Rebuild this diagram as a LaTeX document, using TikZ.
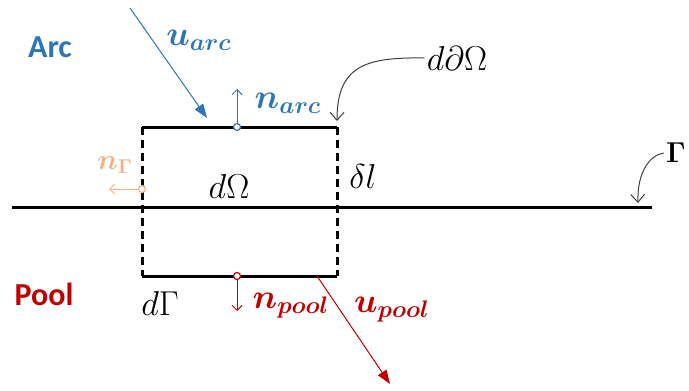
\documentclass[tikz,border=0pt]{standalone}
\usepackage{amsmath}
\usepackage{fontspec}
\newfontfamily\phasefont{Carlito}
\usetikzlibrary{arrows.meta,positioning}

\definecolor{arcblue}{RGB}{46,117,182}
\definecolor{poolred}{RGB}{192,0,0}
\definecolor{gammaorange}{RGB}{244,177,131}

\begin{document}
\begin{tikzpicture}[
    x=0.5pt, y=-0.5pt,
    every node/.style={font=\LARGE, inner sep=1pt},
    phase/.style={font=\phasefont\bfseries\fontsize{16}{19}\selectfont},
    veclabel/.style={font=\LARGE},
    wall/.style={line width=1.5pt},
    cutline/.style={line width=1.5pt, dash pattern=on 4pt off 2.5pt},
    normal/.style={-{Straight Barb[length=2.5pt,width=5pt]}, line width=0.5pt},
    flow/.style={-{Triangle[length=7pt,width=5pt]}, line width=0.5pt},
    pointer/.style={-{Straight Barb[length=4pt,width=7pt]}, line width=0.5pt, black!75},
    foot/.style={circle, draw, fill=white, line width=0.6pt, inner sep=0pt, minimum size=3.5pt}
]
\useasboundingbox (0,0) rectangle (689,390);

% control volume and interface
\coordinate (tl) at (142,127);
\coordinate (tr) at (337,127);
\coordinate (bl) at (142,276);
\coordinate (br) at (337,276);
\coordinate (ifl) at (12,207);
\coordinate (ifr) at (652,207);

\draw[wall] (ifl) -- (ifr);
\draw[wall] (tl) -- (tr);
\draw[wall] (bl) -- (br);
\draw[cutline] (tl) -- (bl);
\draw[cutline] (tr) -- (br);

% phases
\node[phase, text=arcblue] (arc) at (50,47) {Arc};
\node[phase, text=poolred] (pool) at (44,294) {Pool};

% labels of the volume
\node (dOmega) at (229,186) {$d\Omega$};
\node (dl) at (363,176) {$\delta l$};
\node (dGamma) at (160,303) {$d\Gamma$};
\node (ddOmega) at (457,58) {$d\partial\Omega$};
\node[font=\Large, anchor=east] (gamma) at (688,153) {$\boldsymbol{\Gamma}$};

% normals
\node[foot, draw=arcblue] (narcfoot) at (237,127) {};
\coordinate (narctip) at (237,89);
\draw[normal, arcblue] (narcfoot) -- (narctip);
\node[veclabel, text=arcblue] (narc) at (288,103) {$\boldsymbol{n}_{\boldsymbol{arc}}$};

\node[foot, draw=poolred] (npoolfoot) at (237,276) {};
\coordinate (npooltip) at (237,311);
\draw[normal, poolred] (npoolfoot) -- (npooltip);
\node[veclabel, text=poolred] (npool) at (291,306) {$\boldsymbol{n}_{\boldsymbol{pool}}$};

\node[foot, draw=gammaorange] (ngfoot) at (142,189) {};
\coordinate (ngtip) at (109,189);
\draw[normal, gammaorange] (ngfoot) -- (ngtip);
\node[font=\Large, text=gammaorange] (ngamma) at (115,165) {$\boldsymbol{n}_{\boldsymbol{\Gamma}}$};

% velocities
\coordinate (uarcstart) at (130,8);
\coordinate (uarcend) at (207,118);
\draw[flow, arcblue] (uarcstart) -- (uarcend);
\node[veclabel, text=arcblue] (uarc) at (199,40) {$\boldsymbol{u}_{\boldsymbol{arc}}$};

\coordinate (upoolstart) at (317,276);
\coordinate (upoolend) at (390,384);
\draw[flow, poolred] (upoolstart) -- (upoolend);
\node[veclabel, text=poolred] (upool) at (392,310) {$\boldsymbol{u}_{\boldsymbol{pool}}$};

% pointers
\coordinate (ddtip) at (337,121);
\draw[pointer] (ddOmega.west) .. controls (365,57) and (337,66) .. (ddtip);
\coordinate (gammatip) at (638,203);
\draw[pointer] (gamma.west) .. controls (650,155) and (637,172) .. (gammatip);
\end{tikzpicture}
\end{document}
